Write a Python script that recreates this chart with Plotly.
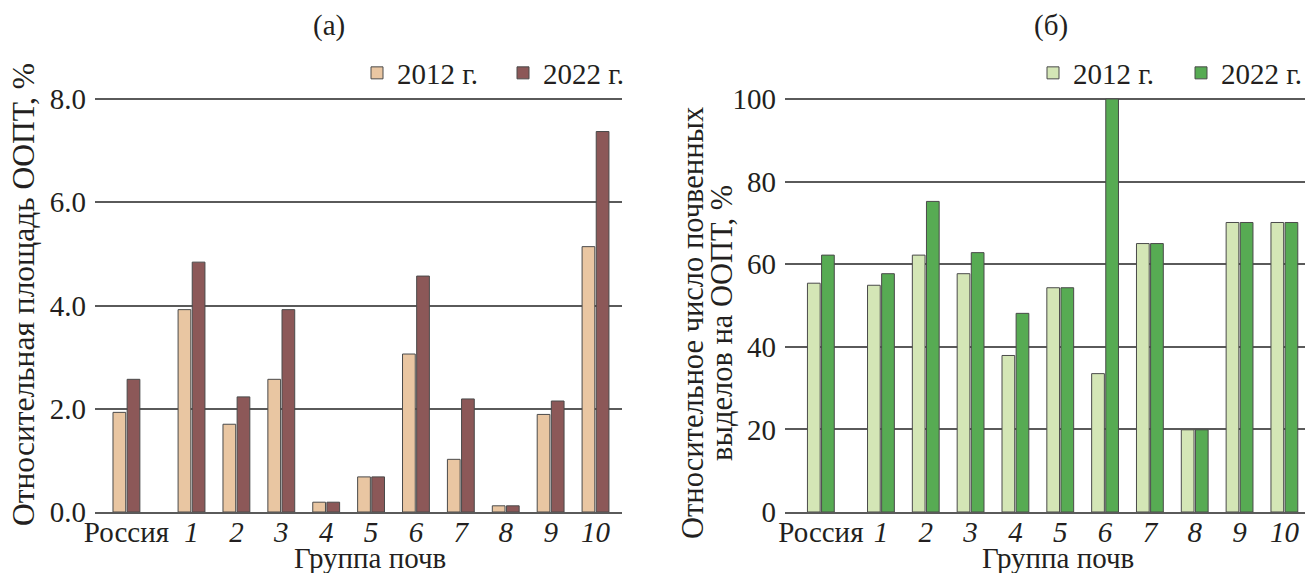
import plotly.graph_objects as go

# ---- data ----
categories = ["Россия", "1", "2", "3", "4", "5", "6", "7", "8", "9", "10"]
area_2012 = [1.93, 3.92, 1.70, 2.57, 0.19, 0.68, 3.06, 1.02, 0.12, 1.89, 5.14]
area_2022 = [2.57, 4.84, 2.23, 3.92, 0.19, 0.68, 4.57, 2.19, 0.12, 2.15, 7.37]
count_2012 = [55.4, 54.9, 62.2, 57.7, 37.9, 54.3, 33.5, 65.0, 19.9, 70.1, 70.1]
count_2022 = [62.2, 57.7, 75.2, 62.8, 48.1, 54.3, 100.0, 65.0, 19.9, 70.1, 70.1]
area_ticks = [0, 2, 4, 6, 8]
count_ticks = [0, 20, 40, 60, 80, 100]
series_names = ["2012 г.", "2022 г."]

W, H = 1305, 573
FONT = "Liberation Serif, Times New Roman, DejaVu Serif, serif"
TXT = "#231f20"
GRID = "#5a5a5a"


def positions(gap):
    # Россия followed by a wider gap, then the soil groups at unit spacing
    return [0.0] + [i + gap for i in range(1, len(categories))]


def ticktext():
    return [categories[0]] + ["<i>%s</i>" % c for c in categories[1:]]


xl = positions(0.45)
xr = positions(0.34)

fig = go.Figure()
line = dict(color="#4a4a4a", width=1)
fig.add_trace(go.Bar(x=xl, y=area_2012, name=series_names[0], marker=dict(color="#E9C6A2", line=line),
                     xaxis="x", yaxis="y", legend="legend"))
fig.add_trace(go.Bar(x=xl, y=area_2022, name=series_names[1], marker=dict(color="#8C5858", line=line),
                     xaxis="x", yaxis="y", legend="legend"))
fig.add_trace(go.Bar(x=xr, y=count_2012, name=series_names[0], marker=dict(color="#D4E6B6", line=line),
                     xaxis="x2", yaxis="y2", legend="legend2"))
fig.add_trace(go.Bar(x=xr, y=count_2022, name=series_names[1], marker=dict(color="#57AB53", line=line),
                     xaxis="x2", yaxis="y2", legend="legend2"))

tickfont = dict(family=FONT, size=29, color=TXT)

# plot area: value 0 at y=512 px, top tick at y=99 px; range extended a bit above top tick
Y0, YT, EXT = 512, 99, 0.03
ytop = Y0 - (1 + EXT) * (Y0 - YT)
ydom = [1 - Y0 / H, 1 - ytop / H]

xcommon = dict(tickmode="array", ticks="", showgrid=False, zeroline=False, automargin=False,
               showline=True, linecolor=GRID, linewidth=1.5, tickfont=tickfont,
               ticktext=ticktext(), ticklabelstandoff=-7)
ycommon = dict(tickmode="array", ticks="", showgrid=True, gridcolor=GRID, gridwidth=1.5,
               zeroline=False, showline=False, tickfont=tickfont, ticklabelstandoff=8,
               automargin=False)

fig.update_layout(
    width=W, height=H,
    margin=dict(l=0, r=0, t=0, b=0, autoexpand=False),
    paper_bgcolor="white", plot_bgcolor="white",
    barmode="group", bargap=0.37, bargroupgap=0.1,
    font=dict(family=FONT, color=TXT),
    xaxis=dict(xcommon, domain=[95 / W, 622 / W], range=[-0.70, 11.04], tickvals=xl, anchor="y"),
    yaxis=dict(ycommon, domain=ydom, range=[0, 8 * (1 + EXT)], tickvals=area_ticks,
               ticktext=["%.1f" % v for v in area_ticks], anchor="x"),
    xaxis2=dict(xcommon, domain=[785 / W, 1.0], range=[-0.80, 10.80], tickvals=xr, anchor="y2"),
    yaxis2=dict(ycommon, domain=ydom, range=[0, 100 * (1 + EXT)], tickvals=count_ticks,
                ticktext=[str(v) for v in count_ticks], anchor="x2"),
    legend=dict(orientation="h", x=357 / W, xanchor="left", y=1 - 73 / H, yanchor="middle",
                font=dict(family=FONT, size=29, color=TXT), bgcolor="rgba(0,0,0,0)",
                entrywidth=101, itemwidth=30, traceorder="normal"),
    legend2=dict(orientation="h", x=1033 / W, xanchor="left", y=1 - 73 / H, yanchor="middle",
                 font=dict(family=FONT, size=29, color=TXT), bgcolor="rgba(0,0,0,0)",
                 entrywidth=103, itemwidth=30, traceorder="normal"),
    showlegend=True,
)

ann = dict(showarrow=False, xref="paper", yref="paper", font=dict(family=FONT, size=29, color=TXT))
fig.add_annotation(ann, text="(а)", x=329 / W, y=1 - 25 / H, xanchor="center", yanchor="middle")
fig.add_annotation(ann, text="(б)", x=1051 / W, y=1 - 25 / H, xanchor="center", yanchor="middle")
fig.add_annotation(ann, text="Группа почв", x=370 / W, y=1 - 558 / H, xanchor="center", yanchor="middle")
fig.add_annotation(ann, text="Группа почв", x=1058 / W, y=1 - 558 / H, xanchor="center", yanchor="middle")
fig.add_annotation(ann, text="Относительная площадь ООПТ, %", textangle=-90,
                   font=dict(family=FONT, size=31.5, color=TXT),
                   x=23 / W, y=1 - 295 / H, xanchor="center", yanchor="middle")
fig.add_annotation(ann, text="Относительное число почвенных", textangle=-90,
                   font=dict(family=FONT, size=30.5, color=TXT),
                   x=693 / W, y=1 - 323 / H, xanchor="center", yanchor="middle")
fig.add_annotation(ann, text="выделов на ООПТ, %", textangle=-90,
                   font=dict(family=FONT, size=30.5, color=TXT),
                   x=722 / W, y=1 - 323 / H, xanchor="center", yanchor="middle")

fig.write_html("out.html", config={"displayModeBar": False},
               post_script="document.body.style.margin='0px';")
